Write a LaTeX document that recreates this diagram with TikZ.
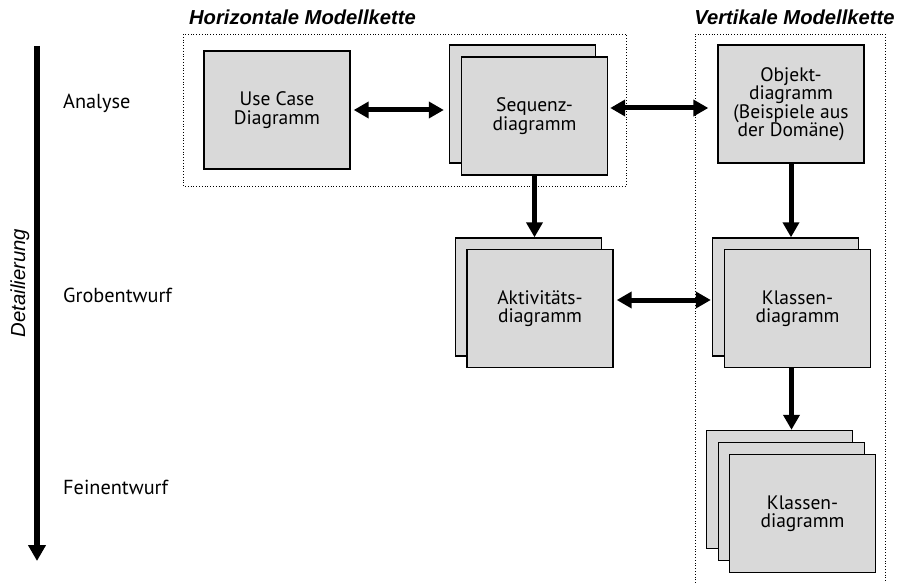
\documentclass[tikz,border=0pt]{standalone}
\usepackage{fontspec}
\setmainfont{PT Sans}
\newfontfamily\arialfont{Liberation Sans}
\usetikzlibrary{arrows.meta,calc}
\definecolor{boxgray}{HTML}{D9D9D9}
\begin{document}
\begin{tikzpicture}[x=1pt,y=-1pt,
 back/.style={draw=black,line width=1.4pt,fill=boxgray,minimum width=146pt,minimum height=118pt,inner sep=0pt},
 box/.style={back,align=center,font=\fontsize{19.5}{18.5}\selectfont},
 frame/.style={dotted,line width=0.8pt},
 conn/.style={line width=5pt,{Triangle[length=15pt,width=16pt]}-{Triangle[length=15pt,width=16pt]}},
 down/.style={line width=5pt,-{Triangle[length=15pt,width=16pt]}},
 lvl/.style={anchor=west,inner sep=0pt,font=\fontsize{20.3}{22}\selectfont},
 title/.style={inner sep=0pt,font=\arialfont\bfseries\itshape\fontsize{20.2}{22}\selectfont}]
\useasboundingbox (0,0) rectangle (900,583);
% frames
\draw[frame] (183,34) rectangle (626,186);
\draw[frame] (695,583) -- (695,34) -- (885,34) -- (885,583);
\node[title] (ht) at (302.5,17) {Horizontale Modellkette};
\node[title] (vt) at (794.5,17) {Vertikale Modellkette};
% left axis
\coordinate (ltop) at (37,46);
\coordinate (lbot) at (37,561);
\draw[line width=5.5pt,-{Triangle[length=16pt,width=17pt]}] (ltop) -- (lbot);
\node[rotate=90,inner sep=0pt,font=\arialfont\itshape\fontsize{20.3}{22}\selectfont] (det) at (20,283) {Detailierung};
\node[lvl] (an) at (63,103) {Analyse};
\node[lvl] (gr) at (63,295) {Grobentwurf};
\node[lvl] (fe) at (63,487) {Feinentwurf};
% boxes
\node[box] (uc) at (277,110) {Use Case\\Diagramm};
\node[back] (seqb) at (522.5,104) {};
\node[box] (seq) at (534.5,116) {Sequenz-\\diagramm};
\node[box] (obj) at (791,104) {Objekt-\\diagramm\\(Beispiele aus\\der Domäne)};
\node[back] (aktb) at (528.5,297) {};
\node[box] (akt) at (540,308.5) {Aktivitäts-\\diagramm};
\node[back] (kl1b) at (785.5,297) {};
\node[box] (kl1) at (797.5,308.5) {Klassen-\\diagramm};
\node[back] (kl2c) at (779.5,489.5) {};
\node[back] (kl2b) at (791.5,501.5) {};
\node[box] (kl2) at (802.5,513.5) {Klassen-\\diagramm};
% connectors
\draw[conn] ($(uc.east)+(3,0)$) -- ($(uc.east -| seqb.west)+(-5,0)$);
\coordinate (sqo) at ($(seq.east)+(2,-8)$);
\draw[conn] (sqo) -- ($(sqo -| obj.west)+(-9,0)$);
\coordinate (ak) at ($(akt.east)+(3,-8.5)$);
\draw[conn] (ak) -- ($(ak -| kl1b.west)+(-1,0)$);
\draw[down] (seq.south) -- (seq.south |- aktb.north);
\draw[down] (obj.south) -- (obj.south |- kl1b.north);
\draw[down] ($(kl1.south)+(-6,0)$) -- ($(kl1.south |- kl2c.north)+(-6,0)$);
\end{tikzpicture}
\end{document}
